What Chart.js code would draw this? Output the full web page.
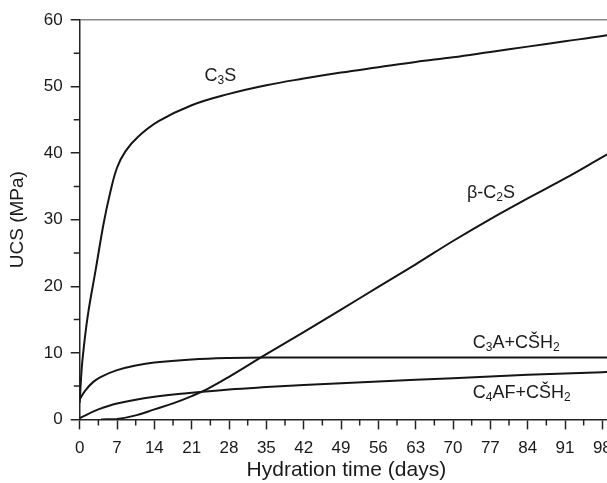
<!DOCTYPE html>
<html>
<head>
<meta charset="utf-8">
<script src="https://cdn.jsdelivr.net/npm/chart.js@4/dist/chart.umd.min.js"></script>
<style>
  html, body { margin: 0; padding: 0; background: #fff; overflow: hidden; }
  #wrap { width: 625px; height: 483px; }
</style>
</head>
<body>
<div id="wrap"><canvas id="ucsChart"></canvas></div>
<script>
// values (days, MPa)
var c3sDays = [0, 0.2, 0.5, 1.5, 3, 4.5, 5.7, 7, 8.6, 11, 14.8, 21, 28, 35, 42, 49, 56, 63, 70, 77, 84, 91, 98, 100];
var c3sUcs  = [2.5, 5.5, 8.8, 15.5, 22.5, 29.5, 34, 37.8, 40.3, 42.5, 44.8, 47.2, 48.9, 50.2, 51.2, 52.1, 52.9, 53.7, 54.4, 55.2, 56, 56.8, 57.6, 57.9];

var c2sDays = [4, 7, 10.5, 14, 17.5, 21, 24, 28, 35, 42, 49, 56, 63, 70, 77, 84, 91, 98, 100];
var c2sUcs  = [0, 0.05, 0.6, 1.5, 2.4, 3.5, 4.6, 6.4, 9.8, 13.1, 16.5, 19.9, 23.3, 26.8, 30.1, 33.2, 36.2, 39.4, 40.3];

var c3aDays = [0, 1, 2.5, 4, 7, 10.5, 14, 21, 28, 35, 49, 70, 98, 100];
var c3aUcs  = [3, 4.3, 5.6, 6.4, 7.4, 8.1, 8.55, 9.0, 9.22, 9.3, 9.3, 9.3, 9.3, 9.3];

var c4afDays = [0, 3.5, 7, 14, 21, 28, 35, 42, 56, 70, 84, 98, 100];
var c4afUcs  = [0.2, 1.5, 2.4, 3.4, 4.0, 4.5, 4.85, 5.15, 5.7, 6.2, 6.7, 7.1, 7.2];

var xTicks = [0, 7, 14, 21, 28, 35, 42, 49, 56, 63, 70, 77, 84, 91, 98];
var yTicks = [0, 10, 20, 30, 40, 50, 60];

function pts(days, vals) {
    var out = [];
    for (var i = 0; i < days.length; i++) {
        out.push({ x: days[i], y: vals[i] });
    }
    return out;
}

function serie(days, vals) {
    return {
        data: pts(days, vals),
        borderColor: '#151515',
        borderWidth: 2,
        pointRadius: 0,
        fill: false,
        tension: 0.4
    };
}

// curve names with subscripts, placed in data units
var curveLabels = [
    { x: 23.4, y: 50.9, parts: [['C', 0], ['3', 1], ['S', 0]] },
    { x: 72.6, y: 33.2, parts: [['\u03b2-C', 0], ['2', 1], ['S', 0]] },
    { x: 73.7, y: 10.7, parts: [['C', 0], ['3', 1], ['A+C\u0160H', 0], ['2', 1]] },
    { x: 73.7, y: 3.2, parts: [['C', 0], ['4', 1], ['AF+C\u0160H', 0], ['2', 1]] }
];

var FONT = '"Liberation Sans", Arial, sans-serif';

const extras = {
    id: 'extras',
    afterDraw(chart) {
        const ctx = chart.ctx;
        const xs = chart.scales.x;
        const ys = chart.scales.y;
        const area = chart.chartArea;
        ctx.save();
        // minor ticks
        ctx.strokeStyle = '#222';
        ctx.lineWidth = 1.5;
        ctx.beginPath();
        for (var d = 3.5; d < 100; d += 7) {
            var px = xs.getPixelForValue(d);
            ctx.moveTo(px, area.bottom);
            ctx.lineTo(px, area.bottom + 6);
        }
        for (var v = 5; v < 60; v += 10) {
            var py = ys.getPixelForValue(v);
            ctx.moveTo(area.left - 6, py);
            ctx.lineTo(area.left, py);
        }
        ctx.stroke();

        // curve labels
        ctx.fillStyle = '#1a1a1a';
        ctx.textBaseline = 'alphabetic';
        curveLabels.forEach(function (lab) {
            var x = xs.getPixelForValue(lab.x);
            var y = ys.getPixelForValue(lab.y);
            lab.parts.forEach(function (p) {
                if (p[1]) {
                    ctx.font = '12px ' + FONT;
                    ctx.fillText(p[0], x, y + 3);
                } else {
                    ctx.font = '18px ' + FONT;
                    ctx.fillText(p[0], x, y);
                }
                x += ctx.measureText(p[0]).width;
            });
        });
        ctx.restore();
    }
};

new Chart('ucsChart', {
    type: 'line',
    data: {
        datasets: [
            serie(c3sDays, c3sUcs),
            serie(c2sDays, c2sUcs),
            serie(c3aDays, c3aUcs),
            serie(c4afDays, c4afUcs)
        ]
    },
    options: {
        responsive: true,
        maintainAspectRatio: false,
        animation: false,
        layout: { padding: { top: 20, right: 12, bottom: 0, left: 0 } },
        plugins: {
            legend: { display: false },
            tooltip: { enabled: false }
        },
        scales: {
            x: {
                type: 'linear',
                min: 0,
                max: 100,
                afterBuildTicks: function (scale) {
                    scale.ticks = xTicks.map(function (v) { return { value: v }; });
                },
                grid: { drawOnChartArea: false, tickLength: 10, tickColor: '#222', tickWidth: 1.5 },
                border: { color: '#222', width: 1.5 },
                ticks: {
                    color: '#1a1a1a',
                    padding: 8.5,
                    maxRotation: 0,
                    autoSkip: false,
                    font: { family: FONT, size: 17 }
                },
                title: {
                    display: true,
                    text: 'Hydration time (days)',
                    color: '#1a1a1a',
                    padding: { top: -9, bottom: 0 },
                    font: { family: FONT, size: 21 }
                }
            },
            y: {
                min: 0,
                max: 60,
                afterBuildTicks: function (scale) {
                    scale.ticks = yTicks.map(function (v) { return { value: v }; });
                },
                grid: {
                    color: function (c) { return c.tick && c.tick.value === 60 ? '#888' : 'rgba(0,0,0,0)'; },
                    lineWidth: 1.5,
                    tickLength: 9,
                    tickColor: '#222',
                    tickWidth: 1.5
                },
                border: { color: '#222', width: 1.5 },
                ticks: {
                    color: '#1a1a1a',
                    padding: 8,
                    font: { family: FONT, size: 17 }
                },
                title: {
                    display: true,
                    text: 'UCS (MPa)',
                    color: '#1a1a1a',
                    padding: { top: 6, bottom: 7 },
                    font: { family: FONT, size: 19 }
                }
            }
        }
    },
    plugins: [extras]
});
</script>
</body>
</html>
